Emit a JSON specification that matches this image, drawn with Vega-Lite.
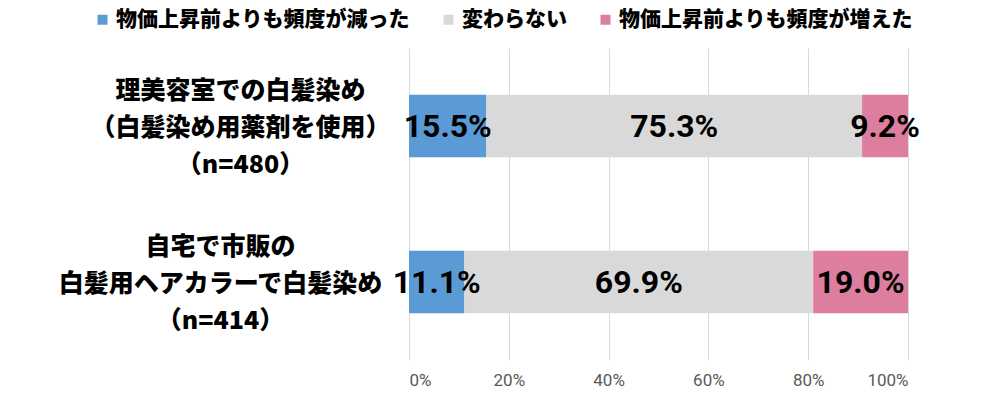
{
  "$schema": "https://vega.github.io/schema/vega-lite/v6.json",
  "width": 499,
  "height": 312,
  "autosize": {"type": "none"},
  "padding": {"left": 409, "top": 48, "right": 92, "bottom": 38},
  "background": "white",
  "config": {"view": {"stroke": null}},
  "data": {
    "values": [
      {"category": "理美容室での白髪染め|（白髪染め用薬剤を使用）|（n=480）", "response": "物価上昇前よりも頻度が減った", "order": 1, "value": 0.155},
      {"category": "理美容室での白髪染め|（白髪染め用薬剤を使用）|（n=480）", "response": "変わらない", "order": 2, "value": 0.753},
      {"category": "理美容室での白髪染め|（白髪染め用薬剤を使用）|（n=480）", "response": "物価上昇前よりも頻度が増えた", "order": 3, "value": 0.092},
      {"category": "自宅で市販の|白髪用ヘアカラーで白髪染め|（n=414）", "response": "物価上昇前よりも頻度が減った", "order": 1, "value": 0.111},
      {"category": "自宅で市販の|白髪用ヘアカラーで白髪染め|（n=414）", "response": "変わらない", "order": 2, "value": 0.699},
      {"category": "自宅で市販の|白髪用ヘアカラーで白髪染め|（n=414）", "response": "物価上昇前よりも頻度が増えた", "order": 3, "value": 0.190}
    ]
  },
  "encoding": {
    "y": {
      "field": "category",
      "type": "nominal",
      "sort": null,
      "scale": {"paddingInner": 0.6, "paddingOuter": 0.3},
      "axis": {
        "title": null,
        "domain": false,
        "ticks": false,
        "labelPadding": {"condition": {"test": "indexof(datum.value, '自宅') >= 0", "value": 189}, "value": 169},
        "labelAlign": "center",
        "labelOffset": -35,
        "labelExpr": "split(datum.label, '|')",
        "labelFont": "Noto Sans CJK JP",
        "labelFontSize": 25,
        "labelFontWeight": 900,
        "labelColor": "#000000",
        "labelLineHeight": 37,
        "labelLimit": 0
      }
    }
  },
  "layer": [
    {
      "mark": {"type": "bar"},
      "encoding": {
        "x": {
          "field": "value",
          "type": "quantitative",
          "stack": "zero",
          "scale": {"domain": [0, 1]},
          "axis": {
            "title": null,
            "values": [0, 0.2, 0.4, 0.6, 0.8, 1],
            "format": ".0%",
            "domain": false,
            "ticks": false,
            "grid": true,
            "gridColor": "#d9d9d9",
            "gridWidth": 1,
            "labelFont": "Roboto",
            "labelFontSize": 17,
            "labelColor": "#595959",
            "labelPadding": 12
          }
        },
        "color": {
          "field": "response",
          "type": "nominal",
          "scale": {
            "domain": ["物価上昇前よりも頻度が減った", "変わらない", "物価上昇前よりも頻度が増えた"],
            "range": ["#5B9BD5", "#D9D9D9", "#DD7E9E"]
          },
          "legend": {
            "title": null,
            "orient": "none",
            "direction": "horizontal",
            "legendX": -317,
            "legendY": -39,
            "symbolType": "square",
            "symbolSize": 100,
            "symbolStrokeWidth": 0,
            "labelFont": "Noto Sans CJK JP",
            "labelFontSize": 21,
            "labelFontWeight": 900,
            "labelColor": "#000000",
            "labelOffset": 3,
            "columnPadding": 28,
            "labelLimit": 0
          }
        },
        "order": {"field": "order", "type": "quantitative"}
      }
    },
    {
      "mark": {"type": "text", "font": "Roboto", "fontSize": 32, "fontWeight": "bold", "color": "#000000", "baseline": "middle", "dy": 1},
      "encoding": {
        "x": {"field": "value", "type": "quantitative", "stack": "zero", "bandPosition": 0.5},
        "text": {"field": "value", "type": "quantitative", "format": ".1%"},
        "order": {"field": "order", "type": "quantitative"},
        "detail": {"field": "response", "type": "nominal"}
      }
    }
  ]
}
